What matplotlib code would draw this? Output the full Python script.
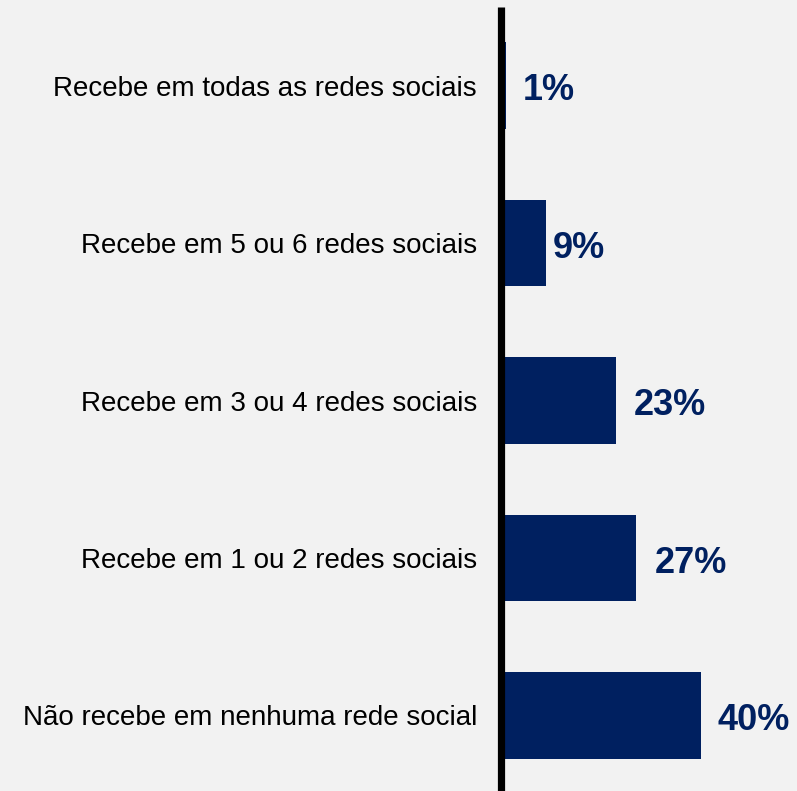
import matplotlib
matplotlib.use("Agg")
import matplotlib.pyplot as plt
from matplotlib.transforms import offset_copy

categories = [
    "Recebe em todas as redes sociais",
    "Recebe em 5 ou 6 redes sociais",
    "Recebe em 3 ou 4 redes sociais",
    "Recebe em 1 ou 2 redes sociais",
    "Não recebe em nenhuma rede social",
]
values = [1, 9, 23, 27, 40]
value_labels = ["1%", "9%", "23%", "27%", "40%"]

BG = "#f2f2f2"
BAR = "#002060"
FONT = ["Liberation Sans", "Arial", "DejaVu Sans"]

W, H = 797, 791
X0 = 501
fig = plt.figure(figsize=(W / 100, H / 100), dpi=100, facecolor=BG)
ax = fig.add_axes([X0 / W, 0, 1 - X0 / W, 1 - 7 / H], facecolor=BG)

y = list(range(len(categories)))
ax.barh(y, values, height=0.55, color=BAR, zorder=2)

ax.set_xlim(0, (W - X0) / 5.0)
ax.set_ylim(4.48, -0.5)

ax.set_yticks(y)
ax.set_yticklabels(categories, fontsize=20, family=FONT, color="#000000")
ax.tick_params(axis="y", length=0, pad=17.3)
ax.set_xticks([])

for s in ["top", "right", "bottom"]:
    ax.spines[s].set_visible(False)
ax.spines["left"].set_linewidth(5.2)
ax.spines["left"].set_color("#000000")
ax.spines["left"].set_capstyle("butt")
ax.spines["left"].set_zorder(3)

nudges = [17, 7, 18, 19, 17]
for yi, v, lab, n in zip(y, values, value_labels, nudges):
    tr = offset_copy(ax.transData, fig=fig, x=n, y=-5, units="dots")
    ax.text(v, yi, lab, transform=tr, ha="left", va="center",
            fontsize=26, fontweight="bold", color=BAR, family=FONT)

fig.savefig("out.png", dpi=100, facecolor=BG)
